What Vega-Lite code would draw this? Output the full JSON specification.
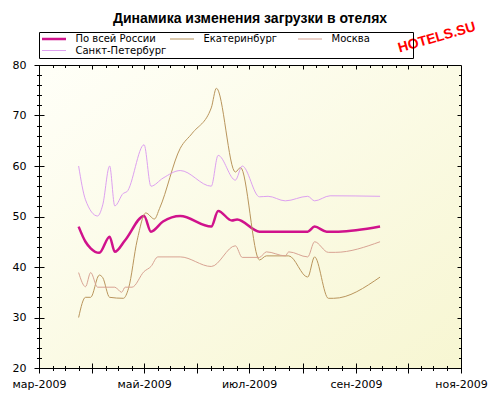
{
  "$schema": "https://vega.github.io/schema/vega-lite/v6.json",
  "width": 422,
  "height": 303,
  "autosize": "none",
  "padding": {"left": 39, "top": 65, "right": 39, "bottom": 32},
  "background": "white",
  "title": {
    "text": "Динамика изменения загрузки в отелях",
    "font": "Liberation Sans",
    "fontSize": 14,
    "fontWeight": "bold",
    "color": "black",
    "anchor": "middle",
    "offset": -6
  },
  "config": {
    "view": {
      "stroke": "black",
      "strokeWidth": 1,
      "fill": {
        "gradient": "linear",
        "x1": 0, "y1": 0, "x2": 1, "y2": 1,
        "stops": [
          {"offset": 0, "color": "#FFFFF8"},
          {"offset": 1, "color": "#F7F6D2"}
        ]
      }
    },
    "axis": {
      "labelFont": "DejaVu Sans",
      "labelFontSize": 11,
      "labelColor": "black",
      "domainColor": "black",
      "tickColor": "black",
      "tickWidth": 1,
      "grid": false,
      "title": null,
      "labelFlush": false,
      "labelOverlap": false
    },
    "legend": {
      "orient": "top",
      "direction": "horizontal",
      "columns": 3,
      "gridAlign": "all",
      "symbolType": "stroke",
      "symbolSize": 576,
      "clipHeight": 11,
      "rowPadding": 0.5,
      "columnPadding": 2,
      "labelOffset": 8,
      "labelFont": "DejaVu Sans",
      "labelFontSize": 10,
      "labelColor": "black",
      "strokeColor": "black",
      "padding": 1.5,
      "offset": 6
    }
  },
  "datasets": {
    "hotels": [
      {"series": "По всей России", "date": "2009-03-24", "value": 48.0},
      {"series": "По всей России", "date": "2009-03-28", "value": 45.0},
      {"series": "По всей России", "date": "2009-03-31", "value": 43.7},
      {"series": "По всей России", "date": "2009-04-05", "value": 42.8},
      {"series": "По всей России", "date": "2009-04-11", "value": 46.0},
      {"series": "По всей России", "date": "2009-04-14", "value": 43.0},
      {"series": "По всей России", "date": "2009-04-20", "value": 45.3},
      {"series": "По всей России", "date": "2009-05-01", "value": 50.1},
      {"series": "По всей России", "date": "2009-05-05", "value": 47.0},
      {"series": "По всей России", "date": "2009-05-12", "value": 49.0},
      {"series": "По всей России", "date": "2009-05-22", "value": 50.1},
      {"series": "По всей России", "date": "2009-06-09", "value": 48.0},
      {"series": "По всей России", "date": "2009-06-13", "value": 51.1},
      {"series": "По всей России", "date": "2009-06-21", "value": 49.2},
      {"series": "По всей России", "date": "2009-06-24", "value": 49.4},
      {"series": "По всей России", "date": "2009-07-07", "value": 47.0},
      {"series": "По всей России", "date": "2009-08-04", "value": 47.0},
      {"series": "По всей России", "date": "2009-08-08", "value": 48.0},
      {"series": "По всей России", "date": "2009-08-15", "value": 47.0},
      {"series": "По всей России", "date": "2009-08-22", "value": 47.0},
      {"series": "По всей России", "date": "2009-09-15", "value": 48.0},

      {"series": "Екатеринбург", "date": "2009-03-24", "value": 30.0},
      {"series": "Екатеринбург", "date": "2009-03-28", "value": 34.0},
      {"series": "Екатеринбург", "date": "2009-03-31", "value": 34.0},
      {"series": "Екатеринбург", "date": "2009-04-05", "value": 38.4},
      {"series": "Екатеринбург", "date": "2009-04-07", "value": 37.9},
      {"series": "Екатеринбург", "date": "2009-04-11", "value": 34.0},
      {"series": "Екатеринбург", "date": "2009-04-19", "value": 33.8},
      {"series": "Екатеринбург", "date": "2009-04-22", "value": 35.8},
      {"series": "Екатеринбург", "date": "2009-04-27", "value": 45.3},
      {"series": "Екатеринбург", "date": "2009-05-02", "value": 50.7},
      {"series": "Екатеринбург", "date": "2009-05-07", "value": 49.5},
      {"series": "Екатеринбург", "date": "2009-05-10", "value": 51.6},
      {"series": "Екатеринбург", "date": "2009-05-22", "value": 63.5},
      {"series": "Екатеринбург", "date": "2009-05-29", "value": 66.5},
      {"series": "Екатеринбург", "date": "2009-06-09", "value": 71.5},
      {"series": "Екатеринбург", "date": "2009-06-12", "value": 75.4},
      {"series": "Екатеринбург", "date": "2009-06-23", "value": 58.8},
      {"series": "Екатеринбург", "date": "2009-06-26", "value": 59.7},
      {"series": "Екатеринбург", "date": "2009-07-07", "value": 41.4},
      {"series": "Екатеринбург", "date": "2009-07-11", "value": 42.2},
      {"series": "Екатеринбург", "date": "2009-07-24", "value": 42.2},
      {"series": "Екатеринбург", "date": "2009-08-04", "value": 38.0},
      {"series": "Екатеринбург", "date": "2009-08-08", "value": 42.0},
      {"series": "Екатеринбург", "date": "2009-08-16", "value": 33.8},
      {"series": "Екатеринбург", "date": "2009-08-19", "value": 33.8},
      {"series": "Екатеринбург", "date": "2009-09-15", "value": 38.0},

      {"series": "Москва", "date": "2009-03-24", "value": 38.9},
      {"series": "Москва", "date": "2009-03-28", "value": 36.1},
      {"series": "Москва", "date": "2009-03-31", "value": 38.9},
      {"series": "Москва", "date": "2009-04-04", "value": 36.0},
      {"series": "Москва", "date": "2009-04-14", "value": 36.0},
      {"series": "Москва", "date": "2009-04-18", "value": 35.0},
      {"series": "Москва", "date": "2009-04-20", "value": 36.0},
      {"series": "Москва", "date": "2009-04-24", "value": 36.0},
      {"series": "Москва", "date": "2009-05-01", "value": 39.1},
      {"series": "Москва", "date": "2009-05-05", "value": 40.1},
      {"series": "Москва", "date": "2009-05-09", "value": 42.0},
      {"series": "Москва", "date": "2009-05-22", "value": 42.0},
      {"series": "Москва", "date": "2009-06-09", "value": 40.1},
      {"series": "Москва", "date": "2009-06-23", "value": 44.2},
      {"series": "Москва", "date": "2009-06-27", "value": 41.9},
      {"series": "Москва", "date": "2009-07-07", "value": 41.9},
      {"series": "Москва", "date": "2009-07-11", "value": 43.0},
      {"series": "Москва", "date": "2009-07-22", "value": 42.2},
      {"series": "Москва", "date": "2009-07-24", "value": 43.0},
      {"series": "Москва", "date": "2009-08-04", "value": 42.0},
      {"series": "Москва", "date": "2009-08-08", "value": 45.0},
      {"series": "Москва", "date": "2009-08-16", "value": 42.9},
      {"series": "Москва", "date": "2009-08-20", "value": 42.9},
      {"series": "Москва", "date": "2009-09-15", "value": 45.0},

      {"series": "Санкт-Петербург", "date": "2009-03-24", "value": 60.0},
      {"series": "Санкт-Петербург", "date": "2009-03-28", "value": 53.3},
      {"series": "Санкт-Петербург", "date": "2009-04-04", "value": 50.1},
      {"series": "Санкт-Петербург", "date": "2009-04-07", "value": 52.3},
      {"series": "Санкт-Петербург", "date": "2009-04-11", "value": 60.0},
      {"series": "Санкт-Петербург", "date": "2009-04-14", "value": 52.1},
      {"series": "Санкт-Петербург", "date": "2009-04-19", "value": 54.6},
      {"series": "Санкт-Петербург", "date": "2009-04-21", "value": 54.9},
      {"series": "Санкт-Петербург", "date": "2009-05-01", "value": 64.2},
      {"series": "Санкт-Петербург", "date": "2009-05-05", "value": 56.0},
      {"series": "Санкт-Петербург", "date": "2009-05-12", "value": 57.6},
      {"series": "Санкт-Петербург", "date": "2009-05-22", "value": 59.1},
      {"series": "Санкт-Петербург", "date": "2009-06-09", "value": 56.0},
      {"series": "Санкт-Петербург", "date": "2009-06-13", "value": 62.1},
      {"series": "Санкт-Петербург", "date": "2009-06-23", "value": 57.2},
      {"series": "Санкт-Петербург", "date": "2009-06-27", "value": 60.0},
      {"series": "Санкт-Петербург", "date": "2009-07-07", "value": 53.9},
      {"series": "Санкт-Петербург", "date": "2009-07-12", "value": 54.0},
      {"series": "Санкт-Петербург", "date": "2009-07-22", "value": 53.1},
      {"series": "Санкт-Петербург", "date": "2009-08-04", "value": 54.0},
      {"series": "Санкт-Петербург", "date": "2009-08-08", "value": 53.1},
      {"series": "Санкт-Петербург", "date": "2009-08-17", "value": 54.1},
      {"series": "Санкт-Петербург", "date": "2009-09-15", "value": 54.0}
    ]
  },
  "data": {"name": "hotels"},
  "layer": [
    {
      "mark": {"type": "line", "interpolate": "monotone"},
      "encoding": {
        "x": {
          "field": "date",
          "type": "temporal",
          "scale": {"domain": [{"year": 2009, "month": 3, "date": 1}, {"year": 2009, "month": 11, "date": 1}]},
          "axis": {
            "orient": "bottom",
            "values": [
              {"year": 2009, "month": 3, "date": 1},
              {"year": 2009, "month": 5, "date": 1},
              {"year": 2009, "month": 7, "date": 1},
              {"year": 2009, "month": 9, "date": 1},
              {"year": 2009, "month": 11, "date": 1}
            ],
            "ticks": false,
            "tickSize": 0,
            "labelPadding": 10,
            "labelExpr": "['янв','фев','мар','апр','май','июн','июл','авг','сен','окт','ноя','дек'][month(datum.value)] + '-' + year(datum.value)"
          }
        },
        "y": {
          "field": "value",
          "type": "quantitative",
          "scale": {"domain": [20, 80]},
          "axis": {
            "orient": "left",
            "values": [20, 30, 40, 50, 60, 70, 80],
            "ticks": false,
            "tickSize": 0,
            "labelPadding": 13
          }
        },
        "color": {
          "field": "series",
          "type": "nominal",
          "scale": {
            "domain": ["По всей России", "Екатеринбург", "Москва", "Санкт-Петербург"],
            "range": ["#D0128C", "#B9955C", "#D8A393", "#DDA0F0"]
          },
          "legend": {
            "title": null,
            "labelExpr": "datum.label == 'Москва' ? datum.label + '\u00a0\u00a0\u00a0\u00a0\u00a0\u00a0\u00a0\u00a0\u00a0\u00a0\u00a0\u00a0\u00a0\u200b' : datum.label"
          }
        },
        "strokeWidth": {
          "field": "series",
          "type": "nominal",
          "scale": {
            "type": "ordinal",
            "domain": ["По всей России", "Екатеринбург", "Москва", "Санкт-Петербург"],
            "range": [2.5, 1, 1, 1]
          },
          "legend": {
            "title": null,
            "labelExpr": "datum.label == 'Москва' ? datum.label + '\u00a0\u00a0\u00a0\u00a0\u00a0\u00a0\u00a0\u00a0\u00a0\u00a0\u00a0\u00a0\u00a0\u200b' : datum.label"
          }
        }
      }
    },
    {
      "mark": {"type": "point", "opacity": 0},
      "encoding": {
        "x": {
          "field": "date",
          "type": "temporal",
          "scale": {"domain": [{"year": 2009, "month": 3, "date": 1}, {"year": 2009, "month": 11, "date": 1}]},
          "axis": {
            "orient": "bottom",
            "values": [
              {"year": 2009, "month": 3, "date": 1},
              {"year": 2009, "month": 4, "date": 1},
              {"year": 2009, "month": 5, "date": 1},
              {"year": 2009, "month": 6, "date": 1},
              {"year": 2009, "month": 7, "date": 1},
              {"year": 2009, "month": 8, "date": 1},
              {"year": 2009, "month": 9, "date": 1},
              {"year": 2009, "month": 10, "date": 1},
              {"year": 2009, "month": 11, "date": 1}
            ],
            "domain": false,
            "labels": false,
            "offset": -5,
            "tickSize": 10
          }
        },
        "y": {
          "field": "value",
          "type": "quantitative",
          "scale": {"domain": [20, 80]},
          "axis": {
            "orient": "left",
            "values": [20, 30, 40, 50, 60, 70, 80],
            "domain": false,
            "labels": false,
            "offset": -5,
            "tickSize": 10
          }
        }
      }
    },
    {
      "mark": {"type": "point", "opacity": 0},
      "encoding": {
        "x": {
          "field": "date",
          "type": "temporal",
          "scale": {"domain": [{"year": 2009, "month": 3, "date": 1}, {"year": 2009, "month": 11, "date": 1}]},
          "axis": {
            "orient": "bottom",
            "values": [
              {"year": 2009, "month": 3, "date": 9}, {"year": 2009, "month": 3, "date": 16}, {"year": 2009, "month": 3, "date": 24},
              {"year": 2009, "month": 4, "date": 9}, {"year": 2009, "month": 4, "date": 16}, {"year": 2009, "month": 4, "date": 24},
              {"year": 2009, "month": 5, "date": 9}, {"year": 2009, "month": 5, "date": 16}, {"year": 2009, "month": 5, "date": 24},
              {"year": 2009, "month": 6, "date": 9}, {"year": 2009, "month": 6, "date": 16}, {"year": 2009, "month": 6, "date": 24},
              {"year": 2009, "month": 7, "date": 9}, {"year": 2009, "month": 7, "date": 16}, {"year": 2009, "month": 7, "date": 24},
              {"year": 2009, "month": 8, "date": 9}, {"year": 2009, "month": 8, "date": 16}, {"year": 2009, "month": 8, "date": 24},
              {"year": 2009, "month": 9, "date": 9}, {"year": 2009, "month": 9, "date": 16}, {"year": 2009, "month": 9, "date": 24},
              {"year": 2009, "month": 10, "date": 9}, {"year": 2009, "month": 10, "date": 16}, {"year": 2009, "month": 10, "date": 24}
            ],
            "domain": false,
            "labels": false,
            "offset": -2.5,
            "tickSize": 5
          }
        },
        "y": {
          "field": "value",
          "type": "quantitative",
          "scale": {"domain": [20, 80]},
          "axis": {
            "orient": "left",
            "values": [22, 24, 26, 28, 32, 34, 36, 38, 42, 44, 46, 48, 52, 54, 56, 58, 62, 64, 66, 68, 72, 74, 76, 78],
            "domain": false,
            "labels": false,
            "offset": -2.5,
            "tickSize": 5
          }
        }
      }
    },
    {
      "mark": {"type": "point", "opacity": 0},
      "encoding": {
        "x": {
          "field": "date",
          "type": "temporal",
          "scale": {"domain": [{"year": 2009, "month": 3, "date": 1}, {"year": 2009, "month": 11, "date": 1}]},
          "axis": {
            "orient": "top",
            "values": [
              {"year": 2009, "month": 4, "date": 1},
              {"year": 2009, "month": 5, "date": 1},
              {"year": 2009, "month": 6, "date": 1},
              {"year": 2009, "month": 7, "date": 1},
              {"year": 2009, "month": 8, "date": 1},
              {"year": 2009, "month": 9, "date": 1},
              {"year": 2009, "month": 10, "date": 1}
            ],
            "domain": false,
            "labels": false,
            "offset": -4,
            "tickSize": 4
          }
        },
        "y": {
          "field": "value",
          "type": "quantitative",
          "scale": {"domain": [20, 80]},
          "axis": {
            "orient": "right",
            "values": [30, 40, 50, 60, 70],
            "domain": false,
            "labels": false,
            "offset": -4,
            "tickSize": 4
          }
        }
      }
    },
    {
      "mark": {"type": "point", "opacity": 0},
      "encoding": {
        "x": {
          "field": "date",
          "type": "temporal",
          "scale": {"domain": [{"year": 2009, "month": 3, "date": 1}, {"year": 2009, "month": 11, "date": 1}]},
          "axis": {
            "orient": "top",
            "values": [
              {"year": 2009, "month": 3, "date": 9}, {"year": 2009, "month": 3, "date": 16}, {"year": 2009, "month": 3, "date": 24},
              {"year": 2009, "month": 4, "date": 9}, {"year": 2009, "month": 4, "date": 16}, {"year": 2009, "month": 4, "date": 24},
              {"year": 2009, "month": 5, "date": 9}, {"year": 2009, "month": 5, "date": 16}, {"year": 2009, "month": 5, "date": 24},
              {"year": 2009, "month": 6, "date": 9}, {"year": 2009, "month": 6, "date": 16}, {"year": 2009, "month": 6, "date": 24},
              {"year": 2009, "month": 7, "date": 9}, {"year": 2009, "month": 7, "date": 16}, {"year": 2009, "month": 7, "date": 24},
              {"year": 2009, "month": 8, "date": 9}, {"year": 2009, "month": 8, "date": 16}, {"year": 2009, "month": 8, "date": 24},
              {"year": 2009, "month": 9, "date": 9}, {"year": 2009, "month": 9, "date": 16}, {"year": 2009, "month": 9, "date": 24},
              {"year": 2009, "month": 10, "date": 9}, {"year": 2009, "month": 10, "date": 16}, {"year": 2009, "month": 10, "date": 24}
            ],
            "domain": false,
            "labels": false,
            "offset": -2.5,
            "tickSize": 2.5
          }
        },
        "y": {
          "field": "value",
          "type": "quantitative",
          "scale": {"domain": [20, 80]},
          "axis": {
            "orient": "right",
            "values": [22, 24, 26, 28, 32, 34, 36, 38, 42, 44, 46, 48, 52, 54, 56, 58, 62, 64, 66, 68, 72, 74, 76, 78],
            "domain": false,
            "labels": false,
            "offset": -2.5,
            "tickSize": 2.5
          }
        }
      }
    },
    {
      "data": {"values": [{"logo": "HOTELS.SU"}]},
      "mark": {
        "type": "text",
        "angle": -16,
        "font": "Liberation Sans",
        "fontSize": 14,
        "fontWeight": "bold",
        "color": "#FF0000",
        "align": "center",
        "baseline": "middle"
      },
      "encoding": {
        "text": {"field": "logo", "type": "nominal"},
        "x": {"datum": {"year": 2009, "month": 10, "date": 18}, "type": "temporal", "axis": null},
        "y": {"datum": 85.4, "type": "quantitative", "axis": null}
      }
    }
  ],
  "resolve": {"axis": {"x": "independent", "y": "independent"}}
}
